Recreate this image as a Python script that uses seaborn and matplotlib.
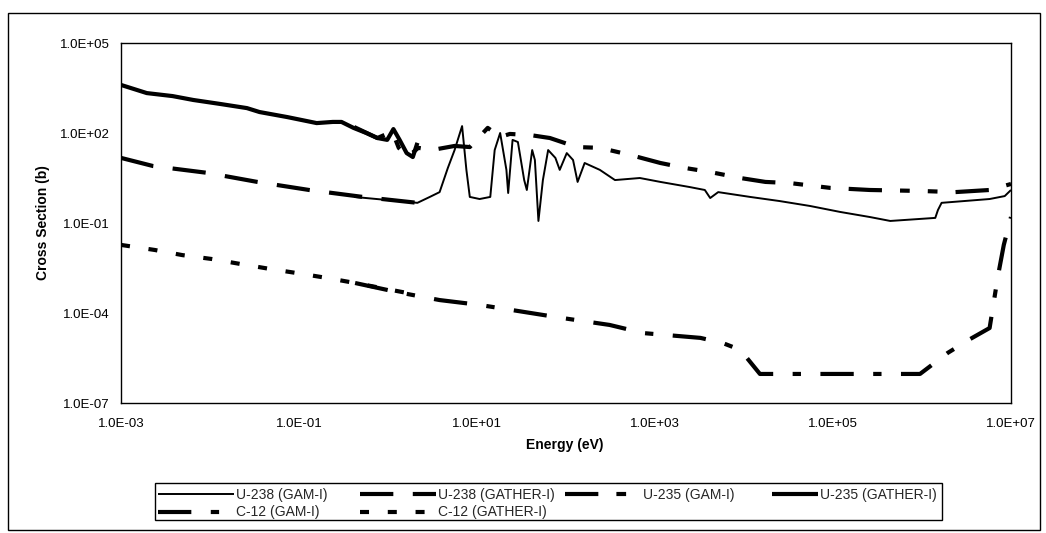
import matplotlib
matplotlib.use("Agg")
import matplotlib.pyplot as plt
import matplotlib.ticker as mticker
from matplotlib.patches import Rectangle
import pandas as pd
import seaborn as sns

# ---------------- data (energy in eV, cross section in barns) ----------------
series_names = ["U-238 (GAM-I)", "U-238 (GATHER-I)", "U-235 (GAM-I)",
                "U-235 (GATHER-I)", "C-12 (GAM-I)", "C-12 (GATHER-I)"]

u238_gam_energy = [0.417, 2.14, 2.95, 3.8, 4.7, 5.6, 6.8, 7.6, 8.3, 10.7, 14.1, 15.8,
                   18.2, 21.4, 22.4, 25.1, 28.8, 33.9, 36.3, 41.7, 44.7, 49.0, 55.0,
                   63.0, 76.0, 85.0, 102.0, 120.0, 135.0, 162.0, 240.0, 355.0, 676.0,
                   1150.0, 2450.0, 3630.0, 4170.0, 5130.0, 1.17e4, 2.5e4, 5.5e4,
                   1.2e5, 2.6e5, 4.4e5, 1.41e6, 1.51e6, 1.66e6, 5.75e6, 8.5e6, 1.0e7]
u238_gam_xs = [0.74, 0.47, 0.74, 1.07, 6.8, 27.0, 170.0, 5.9, 0.74, 0.63, 0.74, 27.0,
               100.0, 5.9, 1.0, 59.0, 50.0, 2.7, 1.26, 27.0, 12.6, 0.117, 2.7,
               27.0, 14.8, 5.9, 21.4, 12.6, 2.34, 10.0, 5.9, 2.7, 3.16,
               2.34, 1.58, 1.26, 0.68, 1.07, 0.74, 0.54, 0.37,
               0.234, 0.158, 0.117, 0.148, 0.27, 0.47, 0.63, 0.79, 1.26]

u238_gather_energy = [0.001, 0.0023, 0.0093, 0.034, 0.13, 0.52, 2.14]
u238_gather_xs = [14.8, 7.9, 4.7, 2.34, 1.26, 0.74, 0.47]

u235_gam_energy = [0.417, 0.76, 1.12, 1.32, 1.66, 2.19, 3.1, 5.6, 8.3, 13.2, 18.2,
                   23.4, 40.0, 66.0, 132.0, 240.0, 525.0, 1150.0, 2190.0, 4170.0,
                   9100.0, 1.74e4, 3.3e4, 9.3e4, 2.6e5, 9.5e5, 2.34e6, 5.75e6, 1.0e7]
u235_gam_xs = [158.0, 68.0, 112.0, 32.0, 15.8, 32.0, 27.0, 37.0, 34.0, 148.0, 74.0,
               93.0, 85.0, 68.0, 34.0, 32.0, 18.6, 10.0, 6.8, 5.0,
               3.16, 2.34, 2.14, 1.48, 1.26, 1.17, 1.07, 1.26, 2.0]

u235_gather_energy = [0.001, 0.00195, 0.0038, 0.0065, 0.0129, 0.026, 0.036, 0.074,
                      0.158, 0.24, 0.30, 0.41, 0.57, 0.76, 0.98, 1.15, 1.35, 1.62,
                      1.9, 2.14]
u235_gather_xs = [4000.0, 2140.0, 1700.0, 1260.0, 933.0, 676.0, 500.0, 339.0,
                  214.0, 234.0, 234.0, 148.0, 100.0, 68.0, 59.0, 135.0, 59.0, 21.4,
                  15.8, 47.0]

c12_gam_energy = [0.427, 1.26, 3.8, 10.7, 91.0, 309.0, 741.0, 3240.0, 5750.0, 9100.0,
                  1.51e4, 9.5e5, 1.95e6, 3.47e6, 5.75e6, 7.1e6, 8.3e6, 1.0e7]
c12_gam_xs = [1.0e-3, 5.0e-4, 2.7e-4, 1.86e-4, 6.8e-5, 4.0e-5, 2.14e-5, 1.48e-5,
              1.0e-5, 5.9e-6, 9.3e-7, 9.3e-7, 4.7e-6, 1.35e-5, 3.16e-5, 1.58e-3,
              0.0186, 0.158]

c12_gather_energy = [0.001, 0.0024, 0.0049, 0.0105, 0.022, 0.047, 0.095, 0.204,
                     0.427, 2.14]
c12_gather_xs = [0.0186, 0.0126, 0.0085, 0.0063, 0.0043, 0.00295, 0.00214, 0.00148,
                 0.0010, 0.0004]

xtick_values = [1e-3, 1e-1, 1e1, 1e3, 1e5, 1e7]
xtick_labels = ["1.0E-03", "1.0E-01", "1.0E+01", "1.0E+03", "1.0E+05", "1.0E+07"]
ytick_values = [1e-7, 1e-4, 1e-1, 1e2, 1e5]
ytick_labels = ["1.0E-07", "1.0E-04", "1.0E-01", "1.0E+02", "1.0E+05"]

x_label = "Energy (eV)"
y_label = "Cross Section (b)"

# ---------------- styling ----------------
sns.set_style("white")
plt.rcParams["font.family"] = ["Liberation Sans", "DejaVu Sans"]
plt.rcParams["lines.scale_dashes"] = False
plt.rcParams["lines.solid_capstyle"] = "butt"
plt.rcParams["lines.dash_capstyle"] = "butt"

W, H = 1046, 533
fig = plt.figure(figsize=(W / 100, H / 100), dpi=100)
fig.patch.set_facecolor("white")
ax = fig.add_axes([121 / W, 1 - 403 / H, 890 / W, 360 / H])
ax.set_xscale("log")
ax.set_yscale("log")

THICK = 3.0
THIN = 1.4
styles = {
    "U-238 (GAM-I)": ("-", THIN),
    "U-238 (GATHER-I)": ((0, (24, 14)), THICK),
    "U-235 (GAM-I)": ((0, (24, 13, 7, 13, 7, 13)), THICK),
    "U-235 (GATHER-I)": ("-", THICK),
    "C-12 (GAM-I)": ((0, (24, 14, 6, 14)), THICK),
    "C-12 (GATHER-I)": ((0, (6.5, 13.5)), THICK),
}
data = {
    "U-238 (GAM-I)": (u238_gam_energy, u238_gam_xs),
    "U-238 (GATHER-I)": (u238_gather_energy, u238_gather_xs),
    "U-235 (GAM-I)": (u235_gam_energy, u235_gam_xs),
    "U-235 (GATHER-I)": (u235_gather_energy, u235_gather_xs),
    "C-12 (GAM-I)": (c12_gam_energy, c12_gam_xs),
    "C-12 (GATHER-I)": (c12_gather_energy, c12_gather_xs),
}

handles = {}
for name in series_names:
    e, s = data[name]
    df = pd.DataFrame({"Energy": e, "XS": s})
    ls, lw = styles[name]
    sns.lineplot(data=df, x="Energy", y="XS", ax=ax, color="black",
                 linewidth=lw, linestyle=ls, sort=False, estimator=None,
                 legend=False)
    handles[name] = ax.lines[-1]

ax.set_xlim(1e-3, 1e7)
ax.set_ylim(1e-7, 1e5)
ax.set_xticks(xtick_values)
ax.set_xticklabels(xtick_labels)
ax.set_yticks(ytick_values)
ax.set_yticklabels(ytick_labels)
ax.xaxis.set_minor_locator(mticker.NullLocator())
ax.yaxis.set_minor_locator(mticker.NullLocator())
ax.tick_params(axis="both", which="major", direction="out", length=4, width=1,
               color="black", labelsize=9.5, labelcolor="black", pad=4)
ax.tick_params(axis="x", pad=7)
for sp in ax.spines.values():
    sp.set_visible(True)
    sp.set_color("black")
    sp.set_linewidth(1.0)
ax.grid(False)

ax.set_xlabel(x_label, fontsize=10, fontweight="bold", color="black")
ax.set_ylabel(y_label, fontsize=10, fontweight="bold", color="black")
ax.xaxis.set_label_coords((565 - 121) / 890, (403 - 445) / 360)
ax.xaxis.label.set_va("center")
ax.yaxis.set_label_coords((43 - 121) / 890, 0.5)
ax.yaxis.label.set_va("center")

# ---------------- legend (row-wise, Excel style) ----------------
legend_cols = [
    (158, ["U-238 (GAM-I)", "C-12 (GAM-I)"], 5.5),
    (360, ["U-238 (GATHER-I)", "C-12 (GATHER-I)"], 5.5),
    (565, ["U-235 (GAM-I)"], 5.5),
    (772, ["U-235 (GATHER-I)"], 3.3),
]
for x0, names, hl in legend_cols:
    fig.legend([handles[n] for n in names], names, loc="upper left",
               bbox_to_anchor=(x0 / W, 1 - 488 / H), frameon=False,
               fontsize=10, handlelength=hl, handletextpad=0.15,
               borderpad=0, borderaxespad=0, labelspacing=0.25)

fig.add_artist(Rectangle((155 / W, 1 - 520 / H), (942 - 155) / W, 37 / H,
                         transform=fig.transFigure, fill=False,
                         edgecolor="black", linewidth=1.0))
fig.add_artist(Rectangle((8 / W, 1 - 530 / H), (1040 - 8) / W, (530 - 13) / H,
                         transform=fig.transFigure, fill=False,
                         edgecolor="black", linewidth=1.0))

fig.savefig("out.png", dpi=100, facecolor="white")
